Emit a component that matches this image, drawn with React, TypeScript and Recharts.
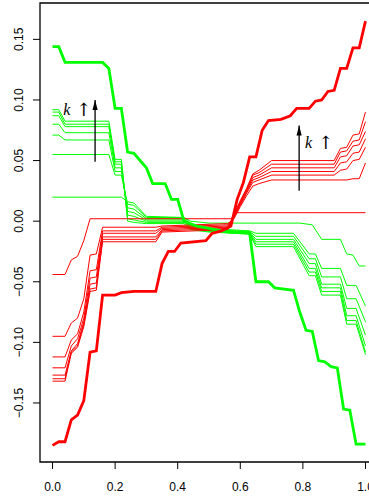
import { ComposedChart, Line, XAxis, YAxis, ReferenceArea } from 'recharts';

const xTicks = [0, 0.2, 0.4, 0.6, 0.8, 1.0];
const yTicks = [-0.15, -0.1, -0.05, 0, 0.05, 0.1, 0.15];
const xDomain = [-0.04, 1.04];
const yDomain = [-0.1987, 0.18];

// thick curves: [x, y] vertices
const thickGreen = [
  [0, 0.144], [0.02, 0.144], [0.04, 0.131], [0.16, 0.131], [0.18, 0.126], [0.2, 0.093],
  [0.22, 0.093], [0.24, 0.057], [0.26, 0.056], [0.3, 0.044], [0.32, 0.031], [0.36, 0.031],
  [0.38, 0.018], [0.4, 0.018], [0.42, 0.0], [0.44, -0.002], [0.46, -0.004], [0.48, -0.005],
  [0.5, -0.006], [0.54, -0.008], [0.56, -0.009], [0.63, -0.01], [0.65, -0.05], [0.69, -0.05],
  [0.71, -0.055], [0.77, -0.057], [0.79, -0.075], [0.81, -0.09], [0.83, -0.091], [0.85, -0.115],
  [0.87, -0.116], [0.89, -0.12], [0.91, -0.121], [0.93, -0.155], [0.95, -0.156], [0.97, -0.184],
  [1.0, -0.184],
];

const thickRed = [
  [0, -0.185], [0.02, -0.182], [0.04, -0.182], [0.06, -0.164], [0.08, -0.16], [0.1, -0.148],
  [0.12, -0.108], [0.14, -0.107], [0.16, -0.061], [0.2, -0.061], [0.22, -0.059], [0.26, -0.058],
  [0.33, -0.058], [0.35, -0.035], [0.37, -0.025], [0.39, -0.025], [0.41, -0.018], [0.49, -0.016],
  [0.51, -0.01], [0.54, -0.008], [0.57, -0.004], [0.59, 0.018], [0.61, 0.032], [0.63, 0.053],
  [0.65, 0.053], [0.67, 0.075], [0.69, 0.083], [0.73, 0.084], [0.76, 0.087], [0.78, 0.093],
  [0.82, 0.093], [0.84, 0.099], [0.86, 0.1], [0.88, 0.107], [0.9, 0.108], [0.92, 0.126],
  [0.94, 0.126], [0.96, 0.143], [0.98, 0.143], [1.0, 0.165],
];

// thin green curves share one x grid
const greenThinX = [0, 0.02, 0.04, 0.18, 0.2, 0.22, 0.24, 0.26, 0.3, 0.42, 0.44, 0.5, 0.63, 0.65, 0.77, 0.82, 0.84, 0.86, 0.92, 0.94, 0.97, 1.0];
const greenThin = [
  [0.055, 0.055, 0.055, 0.055, 0.038, 0.038, 0.014, 0.013, 0.003, 0.003, -0.002, -0.006, -0.008, -0.01, -0.01, -0.027, -0.027, -0.039, -0.039, -0.053, -0.053, -0.07],
  [0.071, 0.071, 0.067, 0.067, 0.041, 0.041, 0.011, 0.01, 0.002, 0.002, -0.003, -0.007, -0.0085, -0.0125, -0.0125, -0.031, -0.031, -0.046, -0.046, -0.064, -0.064, -0.083],
  [0.08, 0.08, 0.073, 0.073, 0.044, 0.044, 0.008, 0.007, 0.001, 0.001, -0.004, -0.0075, -0.009, -0.015, -0.015, -0.035, -0.035, -0.052, -0.052, -0.072, -0.072, -0.094],
  [0.087, 0.087, 0.078, 0.078, 0.047, 0.047, 0.005, 0.004, 0.0, 0.0, -0.005, -0.008, -0.0095, -0.017, -0.017, -0.039, -0.039, -0.055, -0.055, -0.078, -0.078, -0.103],
  [0.09, 0.09, 0.08, 0.08, 0.049, 0.049, 0.002, 0.001, -0.001, -0.001, -0.006, -0.0085, -0.01, -0.019, -0.019, -0.042, -0.042, -0.058, -0.058, -0.082, -0.082, -0.108],
  [0.092, 0.092, 0.0825, 0.0825, 0.051, 0.051, 0.0, -0.001, -0.002, -0.002, -0.007, -0.009, -0.0105, -0.021, -0.021, -0.045, -0.045, -0.061, -0.061, -0.085, -0.085, -0.11],
];
const greenWeak = [
  [0, 0.0198], [0.22, 0.0198], [0.24, 0.016], [0.26, 0.015], [0.3, 0.004], [0.42, 0.003],
  [0.44, 0.0], [0.5, -0.0016], [0.79, -0.0016], [0.83, -0.003], [0.86, -0.015], [0.92, -0.015],
  [0.94, -0.027], [0.96, -0.028], [0.98, -0.037], [1.0, -0.037],
];

// thin red curves share one x grid
const redThinX = [0, 0.04, 0.06, 0.08, 0.1, 0.12, 0.14, 0.16, 0.33, 0.35, 0.56, 0.58, 0.6, 0.62, 0.64, 0.66, 0.7, 0.9, 0.92, 0.94, 0.96, 0.98, 1.0];
const redThin = [
  [-0.095, -0.095, -0.084, -0.08, -0.064, -0.028, -0.027, -0.005, -0.005, -0.004, -0.002, 0.002, 0.012, 0.021, 0.029, 0.031, 0.034, 0.034, 0.034, 0.034, 0.035, 0.035, 0.048],
  [-0.112, -0.112, -0.098, -0.093, -0.075, -0.041, -0.04, -0.008, -0.008, -0.005, -0.003, 0.003, 0.013, 0.023, 0.032, 0.034, 0.038, 0.038, 0.042, 0.043, 0.05, 0.051, 0.061],
  [-0.121, -0.121, -0.103, -0.097, -0.08, -0.047, -0.046, -0.01, -0.01, -0.006, -0.004, 0.004, 0.014, 0.024, 0.034, 0.036, 0.041, 0.041, 0.048, 0.049, 0.056, 0.057, 0.068],
  [-0.127, -0.127, -0.107, -0.101, -0.083, -0.052, -0.051, -0.013, -0.013, -0.007, -0.005, 0.004, 0.015, 0.025, 0.036, 0.038, 0.044, 0.044, 0.053, 0.054, 0.062, 0.063, 0.074],
  [-0.13, -0.13, -0.108, -0.103, -0.085, -0.056, -0.055, -0.015, -0.015, -0.008, -0.006, 0.005, 0.016, 0.026, 0.038, 0.04, 0.047, 0.047, 0.057, 0.058, 0.066, 0.067, 0.082],
  [-0.132, -0.132, -0.109, -0.104, -0.087, -0.058, -0.057, -0.017, -0.017, -0.009, -0.007, 0.006, 0.017, 0.027, 0.039, 0.042, 0.05, 0.05, 0.06, 0.061, 0.071, 0.072, 0.09],
];
const redWeak = [
  [0, -0.044], [0.04, -0.044], [0.06, -0.032], [0.08, -0.029], [0.1, -0.016], [0.12, 0.002],
  [0.57, 0.002], [0.59, 0.007], [1.0, 0.007],
];

// annotations
const arrowLeft = [[0.136, 0.049], [0.136, 0.1]];
const arrowRight = [[0.788, 0.025], [0.788, 0.079]];
const labelLeft = [[0.034, 0.0875]];
const labelRight = [[0.807, 0.0603]];

const GREEN = '#00ff00';
const RED = '#ff0000';
const SANS = '"Liberation Sans", Arial, Helvetica, sans-serif';

const pts = (pairs: number[][]) => pairs.map(([x, y]) => ({ x, y }));
const grid = (xs: number[], ys: number[]) => xs.map((x, i) => ({ x, y: ys[i] }));

const fmtY = (v: number) => (v < 0 ? '\u2212' : '') + Math.abs(v).toFixed(2);

function YTick(props: any) {
  const { x, y, payload } = props;
  const bx = x - 10;
  return (
    <text
      x={bx}
      y={y}
      transform={`rotate(-90 ${bx} ${y})`}
      textAnchor="middle"
      fontSize={12}
      fontFamily={SANS}
      fill="#000"
    >
      {fmtY(payload.value)}
    </text>
  );
}

function ArrowHead(props: any) {
  const { cx, cy, index } = props;
  if (index !== 1) return <g key={`a${index}`} />;
  return (
    <polygon
      key={`a${index}`}
      points={`${cx},${cy} ${cx - 2.6},${cy + 10} ${cx + 2.6},${cy + 10}`}
      fill="#000"
    />
  );
}

function KLabel(props: any) {
  const { cx, cy, index } = props;
  return (
    <text key={`k${index}`} x={cx} y={cy} fontSize={16} fill="#000">
      <tspan fontFamily='"Liberation Serif", "DejaVu Serif", serif' fontStyle="italic" fill="#000">k</tspan>
      <tspan dx={6} dy={1} fontFamily='"DejaVu Serif", serif' fontSize={18} fill="#000">{'\u2191'}</tspan>
    </text>
  );
}

export default function App() {
  return (
    <div style={{ position: 'absolute', left: 0, top: 0, width: 369, height: 498, overflow: 'hidden', background: '#fff' }}>
      <ComposedChart width={378} height={498} margin={{ top: 3, right: 0, bottom: 0, left: 0 }}>
        <XAxis
          type="number"
          dataKey="x"
          domain={xDomain}
          ticks={xTicks}
          allowDataOverflow
          height={36}
          axisLine={false}
          tickSize={7}
          tickMargin={13}
          tickLine={{ stroke: '#000' }}
          tick={{ fill: '#000', fontSize: 12, fontFamily: SANS }}
          tickFormatter={(v: number) => v.toFixed(1)}
        />
        <YAxis
          type="number"
          domain={yDomain}
          ticks={yTicks}
          allowDataOverflow
          width={40}
          axisLine={false}
          tickSize={7}
          tickMargin={0}
          tickLine={{ stroke: '#000' }}
          tick={<YTick />}
        />
        <ReferenceArea
          x1={xDomain[0]}
          x2={xDomain[1]}
          y1={yDomain[0]}
          y2={yDomain[1]}
          fill="none"
          fillOpacity={0}
          stroke="#000"
          strokeWidth={1.3}
          ifOverflow="visible"
        />
        {greenThin.map((ys, i) => (
          <Line key={`gt${i}`} data={grid(greenThinX, ys)} dataKey="y" type="linear" stroke={GREEN} strokeWidth={1} dot={false} isAnimationActive={false} />
        ))}
        <Line data={pts(greenWeak)} dataKey="y" type="linear" stroke={GREEN} strokeWidth={1} dot={false} isAnimationActive={false} />
        {redThin.map((ys, i) => (
          <Line key={`rt${i}`} data={grid(redThinX, ys)} dataKey="y" type="linear" stroke={RED} strokeWidth={1} dot={false} isAnimationActive={false} />
        ))}
        <Line data={pts(redWeak)} dataKey="y" type="linear" stroke={RED} strokeWidth={1} dot={false} isAnimationActive={false} />
        <Line data={pts(thickGreen)} dataKey="y" type="linear" stroke={GREEN} strokeWidth={2.8} dot={false} isAnimationActive={false} />
        <Line data={pts(thickRed)} dataKey="y" type="linear" stroke={RED} strokeWidth={2.8} dot={false} isAnimationActive={false} />
        <Line data={pts(arrowLeft)} dataKey="y" type="linear" stroke="#000" strokeWidth={1.3} dot={ArrowHead} isAnimationActive={false} />
        <Line data={pts(arrowRight)} dataKey="y" type="linear" stroke="#000" strokeWidth={1.3} dot={ArrowHead} isAnimationActive={false} />
        <Line data={pts(labelLeft)} dataKey="y" stroke="none" dot={KLabel} isAnimationActive={false} />
        <Line data={pts(labelRight)} dataKey="y" stroke="none" dot={KLabel} isAnimationActive={false} />
      </ComposedChart>
    </div>
  );
}
